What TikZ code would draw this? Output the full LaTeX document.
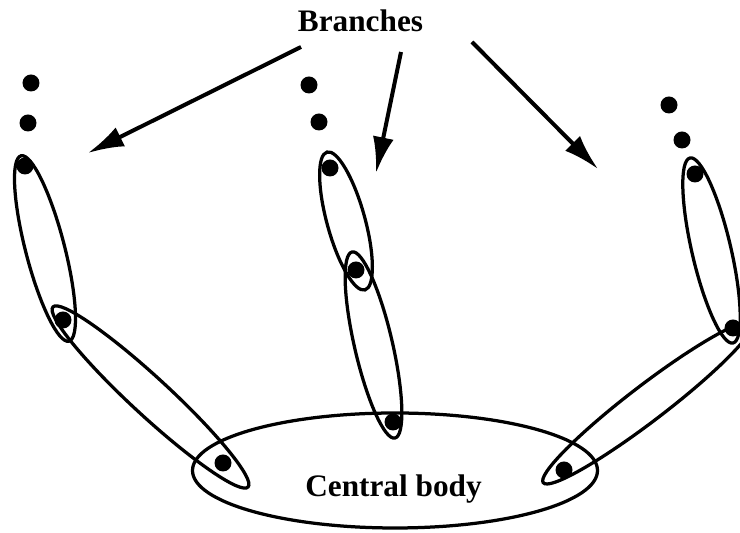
\documentclass[tikz,border=0pt]{standalone}
\usepackage{fontspec}
\setmainfont{Liberation Serif}
\usetikzlibrary{arrows.meta,shapes.geometric}
\tikzset{
  link/.style={draw,ellipse,inner sep=0pt,line width=0.065cm,minimum height=0.76cm},
  body/.style={link,minimum width=8.1cm,minimum height=2.3cm},
  dot/.style={circle,fill,inner sep=0pt,minimum size=0.34cm},
  flow/.style={-{Latex[length=7.2mm,width=4.2mm]},line width=0.08cm},
  lbl/.style={font=\fontsize{17.8}{20}\selectfont\bfseries,inner sep=0pt,anchor=base},
}

\begin{document}
\begin{tikzpicture}
\useasboundingbox (0,0) rectangle (14.8,10.66);

% ==== central body ====
\node[body] (body) at (7.90,1.25) {};
\node[lbl] (bodylbl) at (7.87,0.72) {Central body};

% ==== left branch ====
\node[link,minimum width=3.83cm,minimum height=0.78cm,rotate=-75.5] (lA) at (0.90,5.69) {};
\node[link,minimum width=5.31cm,rotate=-42.7] (lB) at (3.01,2.72) {};
\node[dot] (l0) at (0.62,9.00) {};
\node[dot] (l1) at (0.56,8.20) {};
\node[dot] (l2) at (0.50,7.34) {};
\node[dot] (l3) at (1.26,4.26) {};
\node[dot] (l4) at (4.46,1.40) {};

% ==== middle branch ====
\node[link,minimum width=2.86cm,rotate=-74.6] (mA) at (6.92,6.24) {};
\node[link,minimum width=3.82cm,rotate=-77] (mB) at (7.47,3.76) {};
\node[dot] (m0) at (6.18,8.96) {};
\node[dot] (m1) at (6.38,8.22) {};
\node[dot] (m2) at (6.60,7.30) {};
\node[dot] (m3) at (7.12,5.26) {};
\node[dot] (m4) at (7.86,2.22) {};

% ==== right branch ====
\node[link,minimum width=3.80cm,minimum height=0.78cm,rotate=-76.9] (rA) at (14.23,5.65) {};
\node[link,minimum width=5.25cm,minimum height=0.72cm,rotate=37.4] (rB) at (12.95,2.60) {};
\node[dot] (r0) at (13.38,8.56) {};
\node[dot] (r1) at (13.64,7.86) {};
\node[dot] (r2) at (13.90,7.18) {};
\node[dot] (r3) at (14.66,4.10) {};
\node[dot] (r4) at (11.28,1.26) {};

% ==== label + arrows ====
\node[lbl] (brlbl) at (7.21,10.02) {Branches};
\coordinate (aL) at (6.02,9.72);
\coordinate (aM) at (8.02,9.62);
\coordinate (aR) at (9.44,9.82);
\coordinate (tL) at (1.76,7.60);
\coordinate (tM) at (7.52,7.20);
\coordinate (tR) at (11.96,7.28);
\draw[flow] (aL) -- (tL);
\draw[flow] (aM) -- (tM);
\draw[flow] (aR) -- (tR);

\end{tikzpicture}
\end{document}
